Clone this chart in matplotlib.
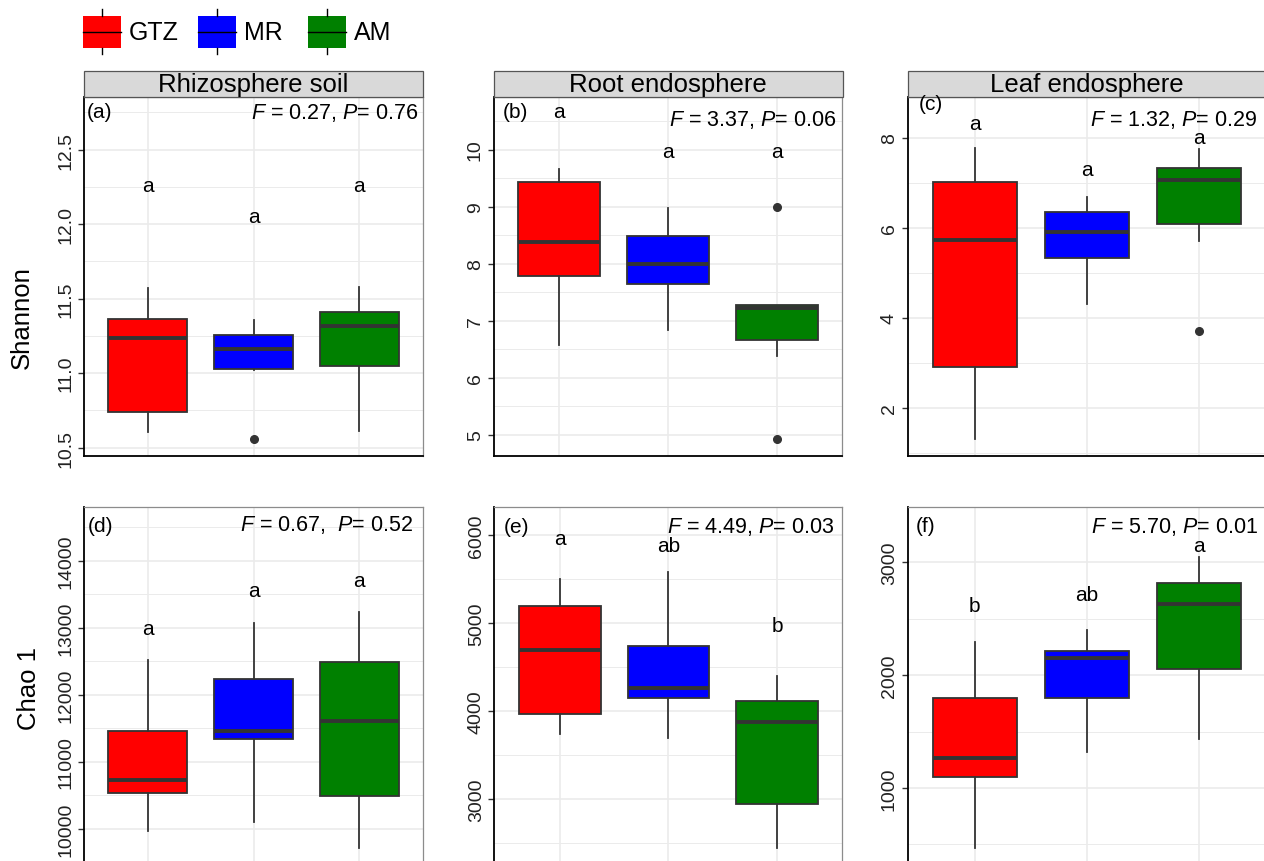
import matplotlib
matplotlib.use("Agg")
import matplotlib.pyplot as plt
from matplotlib.patches import Rectangle
from matplotlib.lines import Line2D
from matplotlib.ticker import MultipleLocator

plt.rcParams['font.family'] = ['Liberation Sans', 'DejaVu Sans']
plt.rcParams['mathtext.fontset'] = 'custom'
plt.rcParams['mathtext.it'] = 'Liberation Sans:italic'
plt.rcParams['mathtext.rm'] = 'Liberation Sans'

# ---------------- data ----------------
groups = ['GTZ', 'MR', 'AM']
group_colors = ['#FF0000', '#0000FF', '#008000']
compartments = ['Rhizosphere soil', 'Root endosphere', 'Leaf endosphere']
metrics = ['Shannon', 'Chao 1']
panel_tags = ['(a)', '(b)', '(c)', '(d)', '(e)', '(f)']

# five-number summaries per group: [whisker low, Q1, median, Q3, whisker high]
shannon_rhizo = [[10.606, 10.74, 11.238, 11.361, 11.574],
                 [11.02, 11.031, 11.161, 11.256, 11.354],
                 [10.614, 11.049, 11.319, 11.413, 11.578]]
shannon_root = [[6.57, 7.785, 8.385, 9.43, 9.66],
                [6.84, 7.645, 8.0, 8.49, 8.98],
                [6.38, 6.66, 7.23, 7.27, 7.28]]
shannon_leaf = [[1.31, 2.9, 5.74, 7.01, 7.77],
                [4.3, 5.33, 5.91, 6.36, 6.68],
                [5.71, 6.09, 7.06, 7.34, 7.76]]
chao_rhizo = [[9975, 10539, 10733, 11459, 12522],
              [10102, 11349, 11468, 12238, 13075],
              [9717, 10495, 11617, 12496, 13232]]
chao_root = [[3742, 3970, 4696, 5198, 5501],
             [3692, 4150, 4261, 4745, 5576],
             [2447, 2947, 3875, 4120, 4397]]
chao_leaf = [[465, 1095, 1269, 1796, 2295],
             [1323, 1796, 2151, 2213, 2399],
             [1438, 2056, 2633, 2819, 3044]]

outliers_shannon_rhizo = [[], [10.558], []]
outliers_shannon_root = [[], [], [9.0, 4.92]]
outliers_shannon_leaf = [[], [], [3.71]]
outliers_chao_rhizo = [[], [], []]
outliers_chao_root = [[], [], []]
outliers_chao_leaf = [[], [], []]

letters_shannon_rhizo = ['a', 'a', 'a']
letters_shannon_root = ['a', 'a', 'a']
letters_shannon_leaf = ['a', 'a', 'a']
letters_chao_rhizo = ['a', 'a', 'a']
letters_chao_root = ['a', 'ab', 'b']
letters_chao_leaf = ['b', 'ab', 'a']

letter_y_shannon_rhizo = [12.26, 12.05, 12.26]
letter_y_shannon_root = [10.66, 9.97, 9.97]
letter_y_shannon_leaf = [8.33, 7.29, 8.02]
letter_y_chao_rhizo = [12988, 13550, 13703]
letter_y_chao_root = [5962, 5879, 4977]
letter_y_chao_leaf = [2615, 2719, 3147]

F_values = ['0.27', '3.37', '1.32', '0.67', '4.49', '5.70']
P_values = ['0.76', '0.06', '0.29', '0.52', '0.03', '0.01']

# ---------------- layout ----------------
W, H = 1264, 862
fig = plt.figure(figsize=(W / 100, H / 100), dpi=100)


def rect(l, r, t, b):
    return [l / W, 1 - b / H, (r - l) / W, (b - t) / H]


panels = [
    dict(stats=shannon_rhizo, out=outliers_shannon_rhizo, let=letters_shannon_rhizo,
         ly=letter_y_shannon_rhizo, box=(84, 423, 98, 457), ylim=(10.444, 12.854),
         major=0.5, minor=0.25, tag_xy=(87, 113), f_xy=(418, 113), fmt='{:.1f}'),
    dict(stats=shannon_root, out=outliers_shannon_root, let=letters_shannon_root,
         ly=letter_y_shannon_root, box=(493.5, 842.5, 98, 457), ylim=(4.63, 10.92),
         major=1, minor=0.5, tag_xy=(503, 113), f_xy=(836, 120), fmt='{:.0f}'),
    dict(stats=shannon_leaf, out=outliers_shannon_leaf, let=letters_shannon_leaf,
         ly=letter_y_shannon_leaf, box=(907.7, 1266, 98, 457), ylim=(0.93, 8.91),
         major=2, minor=1, tag_xy=(919, 105), f_xy=(1257, 120), fmt='{:.0f}'),
    dict(stats=chao_rhizo, out=outliers_chao_rhizo, let=letters_chao_rhizo,
         ly=letter_y_chao_rhizo, box=(84, 423, 508.3, 862), ylim=(9523, 14796),
         major=1000, minor=500, tag_xy=(88, 527), f_xy=(413, 525), fmt='{:.0f}'),
    dict(stats=chao_root, out=outliers_chao_root, let=letters_chao_root,
         ly=letter_y_chao_root, box=(494.5, 842.5, 508.3, 862), ylim=(2300, 6314),
         major=1000, minor=500, tag_xy=(504, 528), f_xy=(834, 527), fmt='{:.0f}'),
    dict(stats=chao_leaf, out=outliers_chao_leaf, let=letters_chao_leaf,
         ly=letter_y_chao_leaf, box=(907.7, 1266, 508.3, 862), ylim=(353, 3488),
         major=1000, minor=500, tag_xy=(916, 527), f_xy=(1258, 527), fmt='{:.0f}'),
]

edge = '#333333'
grid_c = '#EBEBEB'

for i, p in enumerate(panels):
    l, r, t, b = p['box']
    ax = fig.add_axes(rect(l, r, t, b))
    bxp_stats = []
    for g, s, o in zip(groups, p['stats'], p['out']):
        bxp_stats.append(dict(label=g, whislo=s[0], q1=s[1], med=s[2], q3=s[3],
                              whishi=s[4], fliers=o))
    bp = ax.bxp(bxp_stats, positions=[1, 2, 3], widths=0.75, patch_artist=True,
                showcaps=False, showfliers=True,
                boxprops=dict(edgecolor=edge, linewidth=1.3),
                whiskerprops=dict(color=edge, linewidth=1.3),
                medianprops=dict(color=edge, linewidth=2.8, solid_capstyle='butt'),
                flierprops=dict(marker='o', markerfacecolor=edge, markeredgecolor=edge,
                                markersize=5.5, linestyle='none'),
                zorder=3)
    for patch, c in zip(bp['boxes'], group_colors):
        patch.set_facecolor(c)

    ax.set_xlim(0.4, 3.6)
    ax.set_ylim(*p['ylim'])
    ax.set_xticks([1, 2, 3])
    ax.set_xticklabels([])
    ax.tick_params(axis='x', length=0)
    ax.yaxis.set_major_locator(MultipleLocator(p['major']))
    ax.yaxis.set_minor_locator(MultipleLocator(p['minor']))
    fmt = p['fmt']
    ax.yaxis.set_major_formatter(plt.FuncFormatter(lambda v, pos, f=fmt: f.format(v)))
    ax.tick_params(axis='y', which='major', length=4, width=1, color=edge,
                   labelsize=14, labelcolor='#222222', pad=3)
    ax.tick_params(axis='y', which='minor', length=0)
    for lab in ax.get_yticklabels():
        lab.set_rotation(90)
        lab.set_va('center')
    ax.grid(True, which='major', color=grid_c, linewidth=1.2, zorder=0)
    ax.grid(True, which='minor', axis='y', color=grid_c, linewidth=0.7, zorder=0)
    ax.set_axisbelow(True)

    ax.spines['left'].set_color('black')
    ax.spines['left'].set_linewidth(1.3)
    ax.spines['right'].set_color('#8C8C8C')
    ax.spines['top'].set_color('#8C8C8C')
    ax.spines['right'].set_linewidth(0.9)
    ax.spines['top'].set_linewidth(0.9)
    if i < 3:
        ax.spines['bottom'].set_color('black')
        ax.spines['bottom'].set_linewidth(1.3)
    else:
        ax.spines['bottom'].set_visible(False)

    for x, lt, yv in zip([1, 2, 3], p['let'], p['ly']):
        ax.text(x, yv, lt, ha='center', va='center', fontsize=15, color='black', zorder=5)

    tx, ty = p['tag_xy']
    fig.text(tx / W, 1 - ty / H, panel_tags[i], ha='left', va='center', fontsize=15)
    fx, fy = p['f_xy']
    sep = ',  ' if i == 3 else ', '
    fig.text(fx / W, 1 - fy / H,
             r'$\mathit{F}$ = ' + F_values[i] + sep + r'$\mathit{P}$= ' + P_values[i],
             ha='right', va='center', fontsize=15.5)

    if i < 3:
        sr = Rectangle((l / W, 1 - 98 / H), (r - l) / W, 26 / H, transform=fig.transFigure,
                       facecolor='#D9D9D9', edgecolor='#555555', linewidth=0.9, zorder=1)
        fig.add_artist(sr)
        fig.text((l + r) / 2 / W, 1 - 85 / H, compartments[i],
                 ha='center', va='center', fontsize=18.5)

# y-axis titles
fig.text(22 / W, 1 - 318 / H, metrics[0], rotation=90, ha='center', va='center', fontsize=18.5)
fig.text(29 / W, 1 - 689 / H, metrics[1], rotation=90, ha='center', va='center', fontsize=18.5)

# legend (drawn as figure artists)
key_left = [83, 198, 308]
for g, c, kx in zip(groups, group_colors, key_left):
    fig.add_artist(Rectangle((kx / W, 1 - 49 / H), 38 / W, 32 / H, transform=fig.transFigure,
                             facecolor=c, edgecolor='none'))
    fig.add_artist(Line2D([(kx + 19) / W] * 2, [1 - 10 / H, 1 - 17 / H],
                          transform=fig.transFigure, color='black', linewidth=1))
    fig.add_artist(Line2D([(kx + 19) / W] * 2, [1 - 49 / H, 1 - 55 / H],
                          transform=fig.transFigure, color='black', linewidth=1))
    fig.add_artist(Line2D([kx / W, (kx + 38) / W], [1 - 33 / H] * 2,
                          transform=fig.transFigure, color='black', linewidth=1))
    fig.text((kx + 46) / W, 1 - 33 / H, g, ha='left', va='center', fontsize=18)

fig.savefig('out.png', dpi=100)
